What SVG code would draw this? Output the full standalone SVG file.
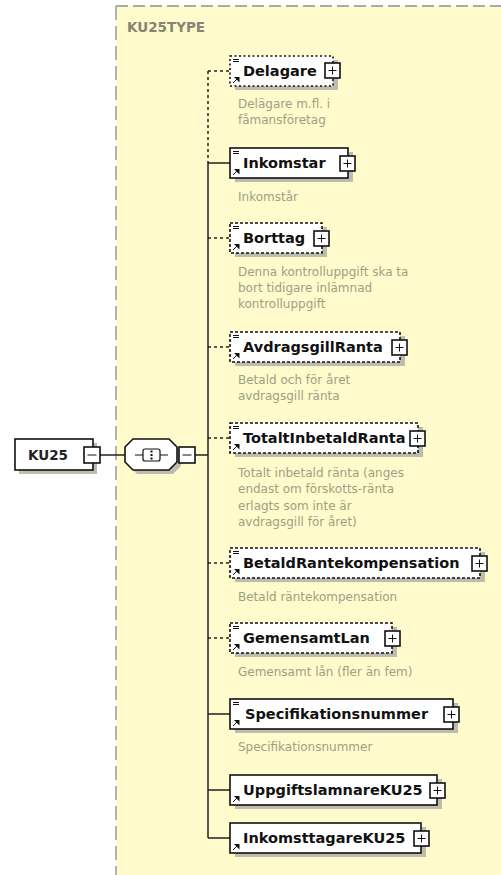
<svg xmlns="http://www.w3.org/2000/svg" width="501" height="875" viewBox="0 0 501 875">
<style>
.nm{font-family:"DejaVu Sans",sans-serif;font-weight:bold;font-size:14.5px;fill:#111}
.ds{font-family:"DejaVu Sans",sans-serif;font-size:12px;fill:#a0a083}
.box{fill:#fff;stroke:#111;stroke-width:1.6}
.opt{stroke-dasharray:3 2}
.sh{fill:#bdbdae}
.ln{stroke:#222;stroke-width:1.5;fill:none}
.dl{stroke-dasharray:3 3}
.pb{fill:#fff;stroke:#111;stroke-width:1.6}
.ic{stroke:#111;stroke-width:1;fill:none}
</style>
<defs>
<g id="plus"><rect class="pb" x="0" y="0" width="15" height="15"/><path class="ic" d="M3.5 7.5h8M7.5 3.5v8" stroke-width="1.4"/></g>
<g id="minus"><rect class="pb" x="0" y="0" width="16" height="16"/><path class="ic" d="M3.5 8h9" stroke-width="1.4"/></g>
<g id="doc"><path class="ic" d="M3 3.5h6M3 5.5h6" stroke-width="1"/></g>
<g id="ref"><path d="M3 27l5-5" class="ic" stroke-width="1.6"/><path d="M4 21h5.5v5.5z" fill="#111"/></g>
</defs>
<rect x="116" y="6" width="385" height="869" fill="#fffbcc"/>
<path d="M116 6H501" stroke="#aaa" stroke-width="2" stroke-dasharray="12 5"/>
<path d="M116 6V875" stroke="#999" stroke-width="1.5" stroke-dasharray="14 6"/>
<text x="127" y="32" font-family="DejaVu Sans,sans-serif" font-weight="bold" font-size="13.5" fill="#858572">KU25TYPE</text>

<g id="connectors">
<path class="ln" d="M100 455H125M195 455H208"/>
<path class="ln dl" d="M208 71V163" stroke-dasharray="2 3"/>
<path class="ln" d="M208 163V838"/>
<path class="ln dl" d="M208 71H230M208 238H230M208 347H230M208 438H230M208 563H230M208 638H230"/>
<path class="ln" d="M208 163H230M208 714H230M208 790H230M208 838H230"/>
</g>

<g id="KU25">
<rect class="sh" x="19" y="443" width="78" height="31"/>
<rect class="box" x="15" y="439" width="78" height="31"/>
<text x="28" y="460" font-family="DejaVu Sans,sans-serif" font-weight="bold" font-size="13.5" fill="#222">KU25</text>
<use href="#minus" x="84" y="447"/>
</g>

<g id="sequence">
<polygon points="137,443 173,443 181,451 181,466 173,474 137,474 129,466 129,451" class="sh"/>
<polygon points="133,439 169,439 177,447 177,462 169,470 133,470 125,462 125,447" fill="#fff" stroke="#111" stroke-width="1.6"/>
<path class="ic" d="M135 455h33" stroke-width="1.2"/>
<rect x="143" y="449" width="17" height="12" rx="2" fill="#fff" stroke="#111" stroke-width="1.2"/>
<path d="M151.5 450.5v2M151.5 454v2M151.5 457.5v2" stroke="#111" stroke-width="2"/>
<use href="#minus" x="179" y="447"/>
</g>

<g id="Delagare">
<rect class="sh" x="235" y="60" width="103" height="30"/>
<rect class="box" x="230" y="56" width="103" height="30" stroke-dasharray="2 2.5"/>
<use href="#doc" x="230" y="56"/><use href="#ref" x="230" y="56"/>
<text class="nm" x="243" y="76">Delagare</text>
<use href="#plus" x="325" y="63"/>
<text class="ds" x="238" y="108">Delägare m.fl. i</text>
<text class="ds" x="238" y="124">fåmansföretag</text>
</g>

<g id="Inkomstar">
<rect class="sh" x="235" y="152" width="118" height="30"/>
<rect class="box" x="230" y="148" width="118" height="30"/>
<use href="#doc" x="230" y="148"/><use href="#ref" x="230" y="148"/>
<text class="nm" x="243" y="168">Inkomstar</text>
<use href="#plus" x="340" y="156"/>
<text class="ds" x="238" y="201">Inkomstår</text>
</g>

<g id="Borttag">
<rect class="sh" x="235" y="227" width="92" height="30"/>
<rect class="box opt" x="230" y="223" width="92" height="30"/>
<use href="#doc" x="230" y="223"/><use href="#ref" x="230" y="223"/>
<text class="nm" x="243" y="243">Borttag</text>
<use href="#plus" x="314" y="231"/>
<text class="ds" x="238" y="276">Denna kontrolluppgift ska ta</text>
<text class="ds" x="238" y="292">bort tidigare inlämnad</text>
<text class="ds" x="238" y="308">kontrolluppgift</text>
</g>

<g id="AvdragsgillRanta">
<rect class="sh" x="235" y="336" width="170" height="30"/>
<rect class="box opt" x="230" y="332" width="170" height="30"/>
<use href="#doc" x="230" y="332"/><use href="#ref" x="230" y="332"/>
<text class="nm" x="243" y="352">AvdragsgillRanta</text>
<use href="#plus" x="392" y="340"/>
<text class="ds" x="238" y="384">Betald och för året</text>
<text class="ds" x="238" y="400">avdragsgill ränta</text>
</g>

<g id="TotaltInbetaldRanta">
<rect class="sh" x="235" y="427" width="188" height="30"/>
<rect class="box opt" x="230" y="423" width="188" height="30"/>
<use href="#doc" x="230" y="423"/><use href="#ref" x="230" y="423"/>
<text class="nm" x="243" y="443">TotaltInbetaldRanta</text>
<use href="#plus" x="410" y="431"/>
<text class="ds" x="238" y="477">Totalt inbetald ränta (anges</text>
<text class="ds" x="238" y="493">endast om förskotts-ränta</text>
<text class="ds" x="238" y="510">erlagts som inte är</text>
<text class="ds" x="238" y="526">avdragsgill för året)</text>
</g>

<g id="BetaldRantekompensation">
<rect class="sh" x="235" y="552" width="250" height="30"/>
<rect class="box opt" x="230" y="548" width="250" height="30"/>
<use href="#doc" x="230" y="548"/><use href="#ref" x="230" y="548"/>
<text class="nm" x="243" y="568">BetaldRantekompensation</text>
<use href="#plus" x="472" y="556"/>
<text class="ds" x="238" y="601">Betald räntekompensation</text>
</g>

<g id="GemensamtLan">
<rect class="sh" x="235" y="627" width="162" height="30"/>
<rect class="box opt" x="230" y="623" width="162" height="30"/>
<use href="#doc" x="230" y="623"/><use href="#ref" x="230" y="623"/>
<text class="nm" x="243" y="643">GemensamtLan</text>
<use href="#plus" x="385" y="631"/>
<text class="ds" x="238" y="676">Gemensamt lån (fler än fem)</text>
</g>

<g id="Specifikationsnummer">
<rect class="sh" x="235" y="703" width="223" height="30"/>
<rect class="box" x="230" y="699" width="223" height="30"/>
<use href="#doc" x="230" y="699"/><use href="#ref" x="230" y="699"/>
<text class="nm" x="245" y="719">Specifikationsnummer</text>
<use href="#plus" x="444" y="707"/>
<text class="ds" x="238" y="751">Specifikationsnummer</text>
</g>

<g id="UppgiftslamnareKU25">
<rect class="sh" x="235" y="779" width="207" height="30"/>
<rect class="box" x="230" y="775" width="207" height="30"/>
<use href="#ref" x="230" y="775"/>
<text class="nm" x="243" y="795">UppgiftslamnareKU25</text>
<use href="#plus" x="430" y="783"/>
</g>

<g id="InkomsttagareKU25">
<rect class="sh" x="235" y="827" width="191" height="30"/>
<rect class="box" x="230" y="823" width="191" height="30"/>
<use href="#ref" x="230" y="823"/>
<text class="nm" x="243" y="843">InkomsttagareKU25</text>
<use href="#plus" x="414" y="831"/>
</g>
</svg>
